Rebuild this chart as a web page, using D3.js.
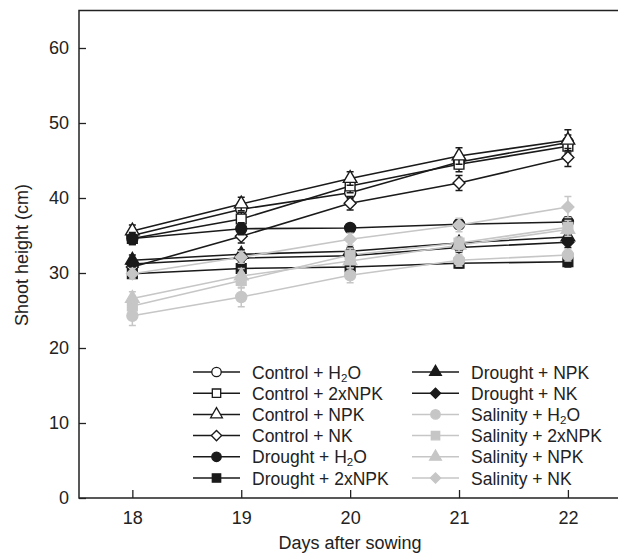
<!DOCTYPE html>
<meta charset="utf-8">
<html>
<head>
<script src="https://cdn.jsdelivr.net/npm/d3@7"></script>
<style>
  body { margin: 0; background: #fff; font-family: "Liberation Sans", Arial, Helvetica, sans-serif; }
  text { fill: #222; }
</style>
</head>
<body>
<script>
// data
var days = [18, 19, 20, 21, 22];
var yTicks = [0, 10, 20, 30, 40, 50, 60];

var seriesNames = ["Control + H2O", "Control + 2xNPK", "Control + NPK", "Control + NK",
                   "Drought + H2O", "Drought + 2xNPK", "Drought + NPK", "Drought + NK",
                   "Salinity + H2O", "Salinity + 2xNPK", "Salinity + NPK", "Salinity + NK"];

var controlH2O    = [35.0, 38.5, 40.7, 44.8, 47.4];
var control2xNPK  = [34.6, 37.2, 41.6, 44.5, 46.9];
var controlNPK    = [35.6, 39.2, 42.6, 45.6, 47.7];
var controlNK     = [30.8, 34.9, 39.3, 42.0, 45.4];
var droughtH2O    = [34.6, 35.9, 36.0, 36.5, 36.8];
var drought2xNPK  = [29.9, 30.6, 30.8, 31.3, 31.5];
var droughtNPK    = [31.7, 32.5, 32.9, 34.0, 34.8];
var droughtNK     = [31.2, 32.0, 32.3, 33.4, 34.1];
var salinityH2O   = [24.3, 26.8, 29.7, 31.7, 32.4];
var salinity2xNPK = [25.6, 29.0, 32.4, 34.0, 36.1];
var salinityNPK   = [26.6, 29.6, 31.6, 33.7, 35.8];
var salinityNK    = [29.9, 32.1, 34.5, 36.4, 38.8];

// standard errors
var errControlH2O    = [0.8, 0.9, 0.8, 0.9, 1.0];
var errControl2xNPK  = [0.8, 0.9, 0.9, 1.0, 0.9];
var errControlNPK    = [0.8, 0.9, 0.9, 1.1, 1.4];
var errControlNK     = [0.7, 0.9, 0.9, 1.0, 1.2];
var errDroughtH2O    = [0.8, 0.8, 0.5, 0.6, 0.7];
var errDrought2xNPK  = [0.6, 0.6, 0.5, 0.6, 0.7];
var errDroughtNPK    = [0.7, 0.6, 0.5, 0.6, 0.8];
var errDroughtNK     = [0.6, 0.6, 0.5, 0.6, 0.7];
var errSalinityH2O   = [1.3, 1.3, 1.0, 0.8, 0.8];
var errSalinity2xNPK = [0.9, 1.0, 0.9, 0.8, 0.9];
var errSalinityNPK   = [0.9, 1.0, 0.9, 0.8, 0.9];
var errSalinityNK    = [0.7, 0.8, 0.8, 0.9, 1.4];

var values = [controlH2O, control2xNPK, controlNPK, controlNK,
              droughtH2O, drought2xNPK, droughtNPK, droughtNK,
              salinityH2O, salinity2xNPK, salinityNPK, salinityNK];
var errors = [errControlH2O, errControl2xNPK, errControlNPK, errControlNK,
              errDroughtH2O, errDrought2xNPK, errDroughtNPK, errDroughtNK,
              errSalinityH2O, errSalinity2xNPK, errSalinityNPK, errSalinityNK];

// styling per series: shape, fill, stroke
var black = "#1a1a1a", grey = "#c6c6c6";
var shapes = ["circle", "square", "triangle", "diamond"];
var series = seriesNames.map(function(name, i) {
  var group = Math.floor(i / 4);
  return {
    name: name,
    shape: shapes[i % 4],
    stroke: group == 2 ? grey : black,
    fill: group == 0 ? "#fff" : (group == 1 ? black : grey),
    values: values[i],
    errors: errors[i]
  };
});

var width = 618, height = 554;
var svg = d3.select("body").append("svg")
  .attr("width", width)
  .attr("height", height);

var x = d3.scaleLinear().domain([17.51, 22.46]).range([79, 618]);
var y = d3.scaleLinear().domain([0, 65]).range([498, 10.5]);

// axes with inward ticks
var xAxis = svg.append("g")
  .attr("transform", "translate(0," + y(0) + ")")
  .call(d3.axisBottom(x).tickValues(days).tickSize(-8).tickPadding(13).tickFormat(d3.format("d")));
var yAxis = svg.append("g")
  .attr("transform", "translate(" + x.range()[0] + ",0)")
  .call(d3.axisLeft(y).tickValues(yTicks).tickSize(-7).tickPadding(10));

[xAxis, yAxis].forEach(function(g) {
  g.select(".domain").remove();
  g.selectAll("line").attr("stroke", "#222").attr("stroke-width", 1.3);
  g.selectAll("text").style("font-size", "18px").attr("fill", "#222");
});

// frame: left, bottom, top
svg.append("path")
  .attr("d", "M618," + y(65) + "H" + x.range()[0] + "V" + y(0) + "H618")
  .attr("fill", "none")
  .attr("stroke", "#222")
  .attr("stroke-width", 1.5);

// axis titles
svg.append("text")
  .attr("x", 350).attr("y", 549)
  .attr("text-anchor", "middle")
  .style("font-size", "18px")
  .text("Days after sowing");
svg.append("text")
  .attr("transform", "translate(28,255) rotate(-90)")
  .attr("text-anchor", "middle")
  .style("font-size", "18px")
  .text("Shoot height (cm)");

function symbolPath(shape, size) {
  if (shape == "circle") return d3.symbol(d3.symbolCircle, size)();
  if (shape == "square") return d3.symbol(d3.symbolSquare, size)();
  if (shape == "triangle") return d3.symbol(d3.symbolTriangle, size)();
  return d3.symbol(d3.symbolSquare, size * 0.75)();
}

var line = d3.line()
  .x(function(d, i) { return x(days[i]); })
  .y(function(d) { return y(d); });

// lines
svg.append("g").selectAll("path")
  .data(series)
  .enter().append("path")
  .attr("d", function(s) { return line(s.values); })
  .attr("fill", "none")
  .attr("stroke", function(s) { return s.stroke; })
  .attr("stroke-width", 1.6);

// error bars and markers per series
series.forEach(function(s) {
  var g = svg.append("g");
  s.values.forEach(function(v, i) {
    var cx = x(days[i]), top = y(v + s.errors[i]), bot = y(v - s.errors[i]);
    g.append("path")
      .attr("d", "M" + cx + "," + top + "V" + bot +
                 "M" + (cx - 3.5) + "," + top + "H" + (cx + 3.5) +
                 "M" + (cx - 3.5) + "," + bot + "H" + (cx + 3.5))
      .attr("stroke", s.stroke)
      .attr("stroke-width", 1.5)
      .attr("fill", "none");
  });
  g.selectAll("path.mark")
    .data(s.values)
    .enter().append("path")
    .attr("class", "mark")
    .attr("d", symbolPath(s.shape, s.shape == "triangle" ? 80 : 95))
    .attr("transform", function(d, i) {
      return "translate(" + x(days[i]) + "," + y(d) + ")" + (s.shape == "diamond" ? " rotate(45)" : "");
    })
    .attr("fill", s.fill)
    .attr("stroke", s.stroke)
    .attr("stroke-width", 1.4);
});

// legend in two columns
var legend = svg.append("g");
series.forEach(function(s, i) {
  var col = Math.floor(i / 6), row = i % 6;
  var lx = 193 + col * 219, ly = 372 + row * 21.2;
  var item = legend.append("g").attr("transform", "translate(" + lx + "," + ly + ")");
  item.append("line")
    .attr("x1", 0).attr("x2", 47)
    .attr("stroke", s.stroke).attr("stroke-width", 1.5);
  item.append("path")
    .attr("d", symbolPath(s.shape, s.shape == "triangle" ? 60 : 70))
    .attr("transform", "translate(23.5,0)" + (s.shape == "diamond" ? " rotate(45)" : ""))
    .attr("fill", s.fill)
    .attr("stroke", s.stroke)
    .attr("stroke-width", 1.3);
  var t = item.append("text")
    .attr("x", 59).attr("y", 6.5)
    .style("font-size", "17.5px");
  var parts = s.name.split("H2O");
  if (parts.length > 1) {
    t.append("tspan").text(parts[0] + "H");
    t.append("tspan").attr("dy", 3).style("font-size", "11.5px").text("2");
    t.append("tspan").attr("dy", -3).text("O");
  } else {
    t.text(s.name);
  }
});
</script>
</body>
</html>
